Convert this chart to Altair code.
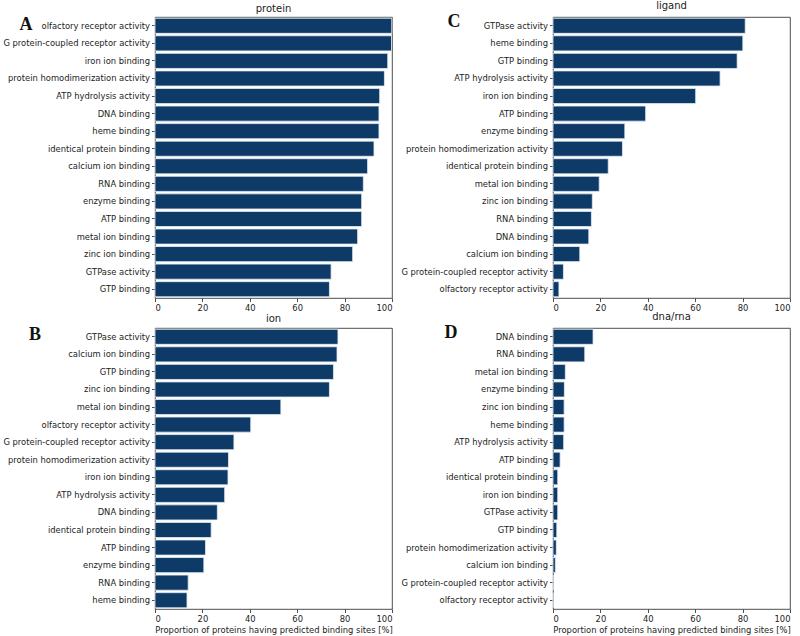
import altair as alt
import pandas as pd

# Molecular-function terms and the share of proteins with predicted binding sites [%]
terms_protein = [
    "olfactory receptor activity", "G protein-coupled receptor activity", "iron ion binding",
    "protein homodimerization activity", "ATP hydrolysis activity", "DNA binding", "heme binding",
    "identical protein binding", "calcium ion binding", "RNA binding", "enzyme binding",
    "ATP binding", "metal ion binding", "zinc ion binding", "GTPase activity", "GTP binding",
]
values_protein = [99.9, 99.8, 98.2, 96.8, 94.8, 94.5, 94.5, 92.4, 89.7, 87.9, 87.2, 87.2, 85.5, 83.4, 74.3, 73.6]

terms_ligand = [
    "GTPase activity", "heme binding", "GTP binding", "ATP hydrolysis activity", "iron ion binding",
    "ATP binding", "enzyme binding", "protein homodimerization activity", "identical protein binding",
    "metal ion binding", "zinc ion binding", "RNA binding", "DNA binding", "calcium ion binding",
    "G protein-coupled receptor activity", "olfactory receptor activity",
]
values_ligand = [81.1, 80.1, 77.7, 70.5, 60.2, 39.1, 30.3, 29.3, 23.3, 19.5, 16.6, 16.2, 15.1, 11.3, 4.4, 2.5]

terms_ion = [
    "GTPase activity", "calcium ion binding", "GTP binding", "zinc ion binding", "metal ion binding",
    "olfactory receptor activity", "G protein-coupled receptor activity",
    "protein homodimerization activity", "iron ion binding", "ATP hydrolysis activity", "DNA binding",
    "identical protein binding", "ATP binding", "enzyme binding", "RNA binding", "heme binding",
]
values_ion = [77.2, 76.8, 75.3, 73.6, 53.1, 40.4, 33.3, 31.0, 30.8, 29.4, 26.3, 23.7, 21.3, 20.6, 14.0, 13.5]

terms_dnarna = [
    "DNA binding", "RNA binding", "metal ion binding", "enzyme binding", "zinc ion binding",
    "heme binding", "ATP hydrolysis activity", "ATP binding", "identical protein binding",
    "iron ion binding", "GTPase activity", "GTP binding", "protein homodimerization activity",
    "calcium ion binding", "G protein-coupled receptor activity", "olfactory receptor activity",
]
values_dnarna = [16.9, 13.4, 5.2, 4.8, 4.7, 4.7, 4.5, 3.0, 2.0, 2.0, 2.0, 1.6, 1.4, 1.0, 0.1, 0.05]

x_ticks = [0, 20, 40, 60, 80, 100]
x_title = "Proportion of proteins having predicted binding sites [%]"

BAR = "#0e3a67"
EDGE = "#e4ecf4"
INK = "#222222"
FONT = "DejaVu Sans"
W, H = 237, 281


def panel(terms, values, title, letter, lx, ly, with_xtitle):
    df = pd.DataFrame({"term": terms, "value": values})
    bars = alt.Chart(df).mark_bar(color=BAR, stroke=EDGE, strokeWidth=0.8).encode(
        x=alt.X(
            "value:Q",
            scale=alt.Scale(domain=[0, 100], nice=False, zero=True),
            axis=alt.Axis(values=x_ticks, title=x_title if with_xtitle else None),
        ),
        y=alt.Y(
            "term:N",
            sort=terms,
            scale=alt.Scale(paddingInner=0.14, paddingOuter=0.07),
            axis=alt.Axis(title=None),
        ),
    )
    tag = alt.Chart(pd.DataFrame({"letter": [letter]})).mark_text(
        font="Liberation Serif", fontWeight="bold", fontSize=18, color="#111111",
        align="center", baseline="middle",
    ).encode(x=alt.value(lx), y=alt.value(ly), text="letter:N")
    return alt.layer(bars, tag).properties(
        width=W, height=H,
        title=alt.TitleParams(title, fontSize=10, font=FONT, fontWeight="normal", color=INK, offset=2),
    )


chart = alt.concat(
    panel(terms_protein, values_protein, "protein", "A", -129, 8, False),
    panel(terms_ligand, values_ligand, "ligand", "C", -99, 5, False),
    panel(terms_ion, values_ion, "ion", "B", -120, 7, True),
    panel(terms_dnarna, values_dnarna, "dna/rna", "D", -102, 5, True),
    columns=2,
    spacing={"row": 30, "column": 161},
    bounds="flush",
).properties(
    padding={"left": 2, "top": 0, "right": 0, "bottom": 0},
    background="white",
).configure_view(
    stroke=INK, strokeWidth=0.8,
).configure_axis(
    domain=False,
    grid=False,
    tickColor=INK, tickSize=3.5, tickWidth=0.8,
    labelFont=FONT, labelFontSize=8.4, labelColor=INK, labelPadding=2,
    titleFont=FONT, titleFontSize=8.4, titleColor=INK, titleFontWeight="normal", titlePadding=3,
)

chart.save("out.html", embed_options={"renderer": "svg", "actions": False})
